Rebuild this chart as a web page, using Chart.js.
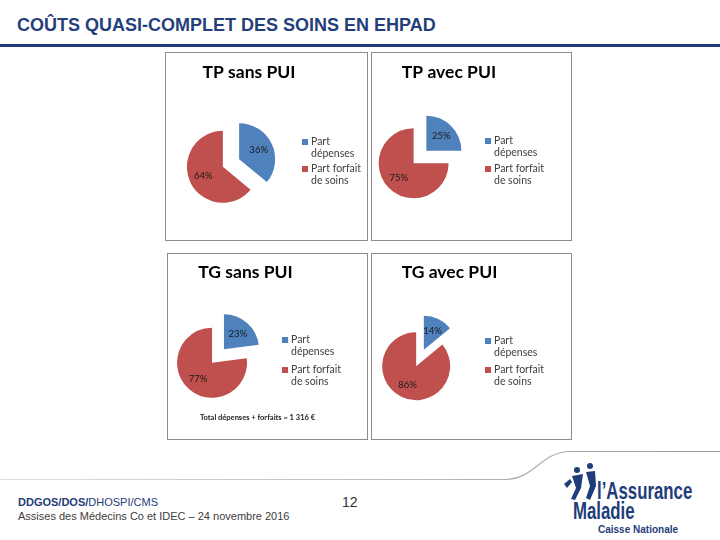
<!DOCTYPE html>
<html lang="fr">
<head>
<meta charset="utf-8">
<title>Coûts quasi-complet des soins en EHPAD</title>
<script src="https://cdn.jsdelivr.net/npm/chart.js@4.4.1/dist/chart.umd.min.js"></script>
<style>
  html, body { margin: 0; padding: 0; background: #fff; }
  #slide { position: relative; width: 720px; height: 540px; overflow: hidden; font-family: "Liberation Sans", Arial, sans-serif; }
  #titre { position: absolute; left: 17px; top: 15px; font-size: 18px; font-weight: bold; color: #243f7b; white-space: nowrap; }
  #barre { position: absolute; left: 0; top: 44px; width: 720px; height: 3px; background: #1f3d7a; }
  .cadre { position: absolute; box-sizing: border-box; border: 1px solid #8c8c8c; }
  .graph { position: absolute; }
  #pied1 { position: absolute; left: 18px; top: 496px; font-size: 11px; color: #1f3d7a; white-space: nowrap; }
  #pied2 { position: absolute; left: 18px; top: 510px; font-size: 11px; color: #404040; white-space: nowrap; }
  #page { position: absolute; left: 342px; top: 494px; font-size: 14px; color: #333; }
  .logo { position: absolute; font-weight: bold; color: #1f3d7a; white-space: nowrap; transform-origin: 0 0; }
</style>
</head>
<body>
<div id="slide">
  <div id="titre">COÛTS QUASI-COMPLET DES SOINS EN EHPAD</div>
  <div id="barre"></div>

  <svg width="720" height="540" style="position:absolute;left:0;top:0">
    <defs>
      <linearGradient id="fondu" x1="0" x2="1" y1="0" y2="0">
        <stop offset="0" stop-color="#e0e0e0"/>
        <stop offset="0.6" stop-color="#b8b8b8"/>
        <stop offset="1" stop-color="#989898"/>
      </linearGradient>
    </defs>
    <path d="M0 479.5 L505 479.5 C535 479.5 540 452 570 451.5 L720 451.5" fill="none" stroke="url(#fondu)" stroke-width="1.2"/>
    <!-- pictogramme du logo, simplifié -->
    <g fill="#1f3d7a">
      <circle cx="577" cy="470" r="3"/>
      <circle cx="590" cy="466" r="3"/>
      <path d="M572 476 L583 474 L581 488 L575 500 L571 499 L576 488 Z"/>
      <path d="M586 472 L595 471 L596 486 L590 500 L586 498 L590 486 Z"/>
      <path d="M564 484 L570 479 L572 482 L567 488 Z"/>
    </g>
  </svg>

  <div id="pied1"><b>DDGOS/DOS/</b>DHOSPI/CMS</div>
  <div id="pied2">Assises des Médecins Co et IDEC – 24 novembre 2016</div>
  <div id="page">12</div>

  <div class="logo" style="left:597px;top:477px;font-size:24px;transform:scaleX(0.7)">l’Assurance</div>
  <div class="logo" style="left:573px;top:497px;font-size:24px;transform:scaleX(0.7)">Maladie</div>
  <div class="logo" style="left:598px;top:524px;font-size:10px">Caisse Nationale</div>
</div>

<script>
// données
const categories = [['Part', 'dépenses'], ['Part forfait', 'de soins']];
const titres = ['TP sans PUI', 'TP avec PUI', 'TG sans PUI', 'TG avec PUI'];
const tpSansPui = [36, 64];
const tpAvecPui = [25, 75];
const tgSansPui = [23, 77];
const tgAvecPui = [14, 86];
const series = [tpSansPui, tpAvecPui, tgSansPui, tgAvecPui];
const noteTotal = 'Total dépenses + forfaits = 1 316 €';

const couleurs = ['#4f81bd', '#c0504d'];

// position des cadres sur la diapo
const cadres = [
  { x: 165, y: 52, w: 203, h: 189, cx: 66, cy: 111, r: 36, titreX: 84, titreY: 20, legX: 137, legY: [90, 117] },
  { x: 371, y: 52, w: 201, h: 189, cx: 49, cy: 105, r: 35, titreX: 78, titreY: 20, legX: 114, legY: [89, 117] },
  { x: 167, y: 253, w: 201, h: 187, cx: 51, cy: 103, r: 35, titreX: 78.5, titreY: 19, legX: 115, legY: [87, 117], note: true },
  { x: 371, y: 253, w: 201, h: 187, cx: 49, cy: 105, r: 34, titreX: 78.5, titreY: 19, legX: 114, legY: [88, 117] }
];

// part éclatée : on décale chaque secteur le long de sa bissectrice
const eclate = {
  id: 'eclate',
  afterDatasetsUpdate(chart, args, opts) {
    chart.getDatasetMeta(0).data.forEach(arc => {
      const mid = (arc.startAngle + arc.endAngle) / 2;
      arc.x += Math.cos(mid) * opts.distance;
      arc.y += Math.sin(mid) * opts.distance;
    });
  }
};

// titre, étiquettes %, légende à deux lignes
const habillage = {
  id: 'habillage',
  afterDraw(chart, args, o) {
    const ctx = chart.ctx;
    ctx.save();
    ctx.textBaseline = 'middle';

    ctx.font = 'bold 17.5px Lato';
    ctx.fillStyle = '#000';
    ctx.textAlign = 'center';
    ctx.fillText(o.titre, o.titreX, o.titreY);

    const meta = chart.getDatasetMeta(0);
    const valeurs = chart.data.datasets[0].data;
    ctx.font = '9.5px Lato';
    ctx.fillStyle = '#1a1a1a';
    meta.data.forEach((arc, i) => {
      const mid = (arc.startAngle + arc.endAngle) / 2;
      const d = arc.outerRadius * 0.6;
      ctx.fillText(valeurs[i] + '%', arc.x + Math.cos(mid) * d, arc.y + Math.sin(mid) * d);
    });

    ctx.textAlign = 'left';
    ctx.font = '10.5px Lato';
    chart.data.labels.forEach((lignes, i) => {
      const y0 = o.legY[i];
      ctx.fillStyle = chart.data.datasets[0].backgroundColor[i];
      ctx.fillRect(o.legX, y0 - 3, 6, 6);
      ctx.fillStyle = '#404040';
      lignes.forEach((txt, k) => ctx.fillText(txt, o.legX + 9, y0 + k * 12));
    });

    if (o.note) {
      ctx.font = 'bold 7.5px Lato';
      ctx.fillStyle = '#222';
      ctx.textAlign = 'center';
      ctx.fillText(o.note, o.noteX, o.noteY);
    }
    ctx.restore();
  }
};

const slide = document.getElementById('slide');

cadres.forEach((c, n) => {
  const cadre = document.createElement('div');
  cadre.className = 'cadre';
  cadre.style.cssText = `left:${c.x}px;top:${c.y}px;width:${c.w}px;height:${c.h}px`;
  slide.appendChild(cadre);

  const canvas = document.createElement('canvas');
  canvas.className = 'graph';
  canvas.width = c.w;
  canvas.height = c.h;
  canvas.style.left = c.x + 'px';
  canvas.style.top = c.y + 'px';
  slide.appendChild(canvas);

  const R = 45;
  new Chart(canvas, {
    type: 'pie',
    data: {
      labels: categories,
      datasets: [{
        data: series[n],
        backgroundColor: couleurs,
        borderWidth: 0,
        radius: c.r
      }]
    },
    options: {
      responsive: false,
      animation: false,
      events: [],
      layout: {
        padding: { left: c.cx - R, right: c.w - c.cx - R, top: c.cy - R, bottom: c.h - c.cy - R }
      },
      plugins: {
        legend: { display: false },
        tooltip: { enabled: false },
        eclate: { distance: 9 },
        habillage: {
          titre: titres[n],
          titreX: c.titreX,
          titreY: c.titreY,
          legX: c.legX,
          legY: c.legY,
          note: c.note ? noteTotal : null,
          noteX: 90.5,
          noteY: 165
        }
      }
    },
    plugins: [eclate, habillage]
  });
});
</script>
</body>
</html>
